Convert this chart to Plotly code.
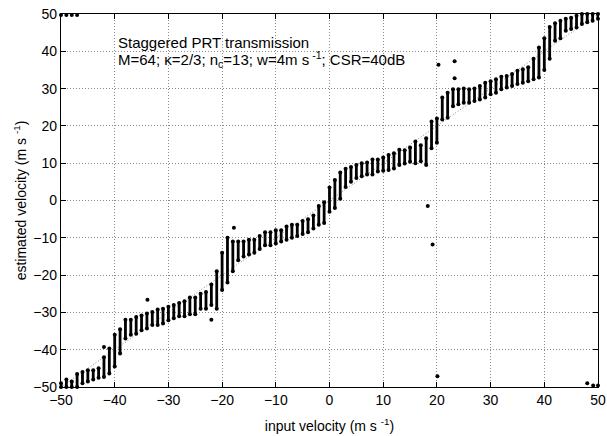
import plotly.graph_objects as go

input_velocity = list(range(-50, 51))
est_low = [
    -50, -50, -50, -50, -49, -48.5, -48, -47.5, -47.3, -46.4,   # -50..-41
    -44.5, -41, -37, -36, -35.7, -34.8, -34.3, -33.4, -33.4, -33,  # -40..-31
    -32.1, -31.6, -31, -31, -30.5, -30.5, -29, -29, -28, -29,   # -30..-21
    -24, -22, -19, -16, -15, -14.5, -14, -13, -12, -12,         # -20..-11
    -11.5, -11, -10.5, -10, -9.5, -9, -8.5, -7.5, -6.5, -6,     # -10..-1
    -3,                                                          # 0
    -2, 0.5, 3.6, 5, 6, 6.5, 7, 7, 7.8, 8,                       # 1..10
    8.2, 8.6, 9.5, 9.9, 10.4, 10, 10.5, 9.5, 14, 15.5,           # 11..20
    21.7, 22.2, 25.3, 25.8, 26.2, 26.2, 26.7, 27.1, 27.6, 28.5,  # 21..30
    28.9, 29.8, 30.3, 30.7, 31.2, 31.6, 32, 32.5, 33, 35,        # 31..40
    38, 42.8, 43.5, 45.5, 46, 46.4, 47.3, 47.8, 48.2, 48.7,      # 41..50
]
est_high = [
    -49, -48, -48.5, -46.5, -46, -45.5, -45.5, -45, -42, -39.7,  # -50..-41
    -36, -34.5, -32, -32, -31.2, -30.8, -30.3, -29.9, -29.2, -29,  # -40..-31
    -28.5, -28, -27.5, -27, -26, -26, -25, -24.5, -22.5, -19,    # -30..-21
    -14, -10, -11, -11, -11, -10.5, -10.5, -9.5, -8.5, -8.5,     # -20..-11
    -8, -8, -7, -6.5, -6.5, -5.5, -5, -4, -1.5, -0.5,            # -10..-1
    3.5,                                                         # 0
    5.5, 7.5, 8.5, 9, 9.5, 10, 10.2, 11, 11, 11.5,               # 1..10
    12.2, 12.7, 13.6, 13.5, 14.2, 15.8, 14.8, 16.7, 21.2, 22,    # 11..20
    27.6, 28.9, 29.8, 29.8, 30, 29.8, 30, 30.7, 31.6, 32,        # 21..30
    32.5, 33.2, 33.4, 33.9, 34.8, 35.2, 35.7, 38, 41, 43.5,      # 31..40
    46.5, 47.5, 48.2, 48.7, 49, 49.5, 50, 50, 50, 50,            # 41..50
]

# Isolated estimates (outliers and aliased/wrapped estimates)
outlier_x = [-42, -33.9, -22, -17.8, 18.3, 19.2, 20.1, 20.3, 23.3, 23.3,
             -50, -49, -48, -47, 48, 49.1, 50]
outlier_y = [-39.3, -26.6, -32, -7.3, -1.5, -11.8, -47.1, 36.4, 37.3, 32.8,
             49.7, 49.7, 49.7, 49.7, -49, -49.6, -49.6]

# true velocity reference line (estimated = input)
truth_line = [-50, 50]

tick_vals = [-50, -40, -30, -20, -10, 0, 10, 20, 30, 40, 50]

bar_x, bar_y = [], []
for v, lo, hi in zip(input_velocity, est_low, est_high):
    bar_x += [v, v, None]
    bar_y += [lo, hi, None]

fig = go.Figure()
fig.add_trace(go.Scatter(
    x=truth_line, y=truth_line, mode="lines",
    line=dict(color="#888888", width=1, dash="1px,2px"), hoverinfo="skip"))
fig.add_trace(go.Scatter(
    x=bar_x, y=bar_y, mode="lines+markers", cliponaxis=False,
    line=dict(color="black", width=2.8),
    marker=dict(color="black", size=4, symbol="circle")))
fig.add_trace(go.Scatter(
    x=outlier_x, y=outlier_y, mode="markers", cliponaxis=False,
    marker=dict(color="black", size=4, symbol="circle")))

font_family = "Liberation Sans, Arial, sans-serif"
axis_common = dict(
    range=[-50, 50], tickvals=tick_vals, ticks="inside", ticklen=5,
    tickcolor="black", showline=True, linecolor="black", linewidth=1.2,
    mirror="allticks", showgrid=True, gridcolor="#8a8a8a", griddash="1px,2px",
    gridwidth=1, zeroline=False, ticklabeloverflow="allow", automargin=False,
    tickfont=dict(size=14, color="black", family=font_family),
)

fig.update_layout(
    width=607, height=436,
    margin=dict(l=61, r=9, t=14, b=49),
    paper_bgcolor="white", plot_bgcolor="white",
    showlegend=False,
    font=dict(family=font_family, color="black"),
    xaxis=dict(**axis_common,
               title=dict(text="input velocity (m s <sup>-1</sup>)",
                          font=dict(size=14), standoff=14)),
    yaxis=dict(**axis_common,
               title=dict(text="estimated velocity (m s <sup>-1</sup>)",
                          font=dict(size=14), standoff=3)),
    annotations=[
        dict(x=-39.7, y=42.3, xref="x", yref="y", xanchor="left", yanchor="middle",
             showarrow=False, align="left", text="Staggered PRT transmission",
             font=dict(size=15, color="black", family=font_family)),
        dict(x=-39.7, y=37.9, xref="x", yref="y", xanchor="left", yanchor="middle",
             showarrow=False, align="left",
             text="M=64; κ=2/3; n<sub>c</sub>=13; w=4m s<sup> -1</sup>; CSR=40dB",
             font=dict(size=15, color="black", family=font_family)),
    ],
)

# remove the browser's default page margin so the figure sits at the window origin
fig.write_html("out.html",
               config={"displayModeBar": False},
               post_script="document.body.style.margin='0px';document.body.style.overflow='hidden';")
